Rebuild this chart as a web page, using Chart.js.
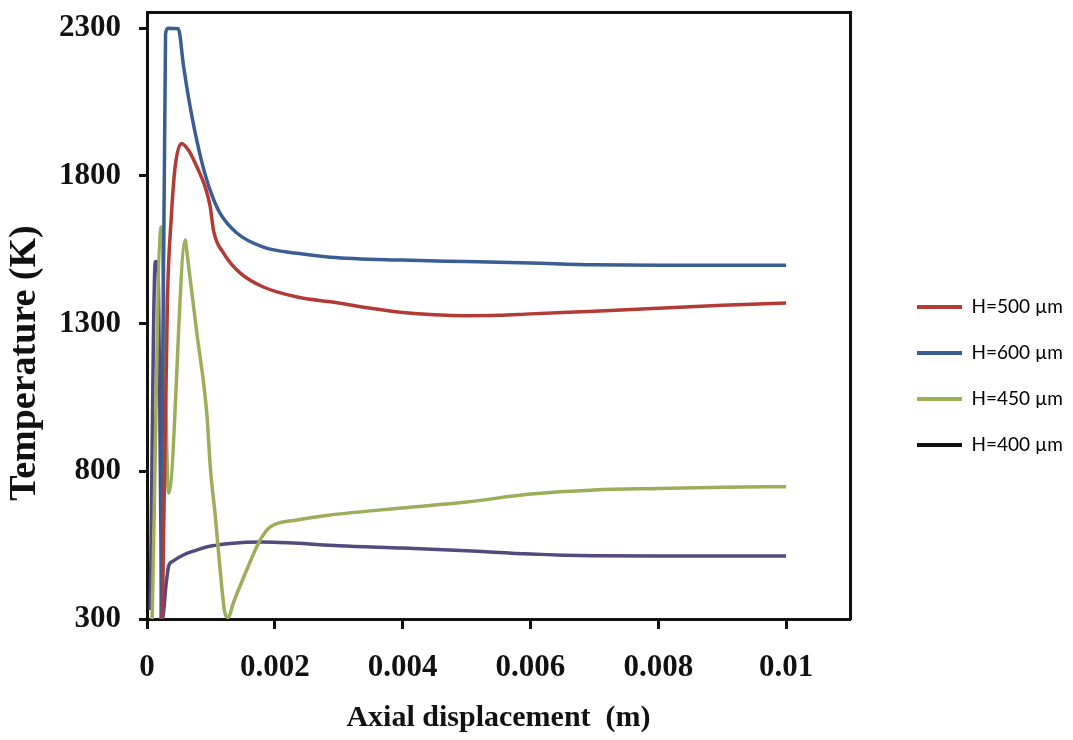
<!DOCTYPE html>
<html>
<head>
<meta charset="utf-8">
<script src="https://cdn.jsdelivr.net/npm/chart.js@4.4.1/dist/chart.umd.min.js"></script>
<style>
  body { margin: 0; background: #fff; }
</style>
</head>
<body>
<canvas id="tempChart" width="1073" height="740"></canvas>
<script>
// axial position (m) and temperature (K)
const x500 = [0.00024, 0.00032, 0.00038, 0.00044, 0.00054, 0.00065, 0.00078, 0.00091, 0.00099, 0.00104, 0.0012, 0.00146, 0.00182, 0.00235, 0.003, 0.0035, 0.004, 0.0045, 0.005, 0.0055, 0.006, 0.007, 0.008, 0.009, 0.01];
const t500 = [300, 1380, 1660, 1830, 1910, 1887, 1831, 1763, 1695, 1616, 1538, 1471, 1424, 1390, 1370, 1352, 1338, 1330, 1327, 1328, 1333, 1342, 1352, 1362, 1370];

const x600 = [0.00022, 0.00029, 0.00033, 0.00049, 0.00057, 0.00067, 0.00075, 0.00086, 0.00099, 0.00114, 0.00141, 0.00182, 0.00235, 0.00287, 0.004, 0.005, 0.006, 0.007, 0.008, 0.01];
const t600 = [300, 2280, 2300, 2298, 2175, 2040, 1950, 1845, 1750, 1675, 1606, 1559, 1538, 1525, 1515, 1510, 1505, 1499, 1498, 1498];

const x450 = [0.00008, 0.00022, 0.00034, 0.0006, 0.00062, 0.00078, 0.00094, 0.00099, 0.00107, 0.00114, 0.00122, 0.00127, 0.00135, 0.00156, 0.00177, 0.00193, 0.00235, 0.00287, 0.004, 0.005, 0.006, 0.007, 0.008, 0.009, 0.01];
const t450 = [300, 1627, 726, 1583, 1549, 1268, 985, 815, 646, 477, 320, 305, 354, 466, 567, 612, 635, 652, 676, 696, 723, 737, 742, 746, 748];

const x400 = [0.00005, 0.00013, 0.00017, 0.00024, 0.0003, 0.00034, 0.0004, 0.0006, 0.0008, 0.001, 0.0013, 0.0018, 0.0023, 0.003, 0.004, 0.005, 0.006, 0.007, 0.008, 0.01];
const t400 = [330, 1510, 1500, 300, 420, 480, 495, 520, 535, 547, 556, 561, 557, 548, 540, 531, 520, 514, 513, 513];

const seriesNames = ["H=500 \u00b5m", "H=600 \u00b5m", "H=450 \u00b5m", "H=400 \u00b5m"];
const lineColors = ["#b23b36", "#3a5d94", "#9bae5a", "#524b7e"];
const legendColors = ["#b23b36", "#3a5d94", "#9bae5a", "#111111"];

const xTicks = [0, 0.002, 0.004, 0.006, 0.008, 0.01];
const yTicks = [300, 800, 1300, 1800, 2300];

function pairs(xs, ys) {
    return xs.map((x, i) => ({ x: x, y: ys[i] }));
}

const allX = [x500, x600, x450, x400];
const allT = [t500, t600, t450, t400];

const datasets = seriesNames.map((name, i) => ({
    label: name,
    data: pairs(allX[i], allT[i]),
    borderColor: lineColors[i],
    backgroundColor: lineColors[i],
    borderWidth: 3.5,
    pointRadius: 0,
    cubicInterpolationMode: "monotone",
    fill: false
}));

const serif = "'Liberation Serif', 'Times New Roman', serif";

new Chart(document.getElementById("tempChart"), {
    type: "line",
    data: { datasets: datasets },
    options: {
        responsive: false,
        animation: false,
        layout: { padding: { top: 12, right: 5, bottom: 0, left: 0 } },
        plugins: {
            tooltip: { enabled: false },
            legend: {
                position: "right",
                labels: {
                    usePointStyle: true,
                    pointStyle: "line",
                    pointStyleWidth: 45,
                    padding: 27,
                    color: "#222",
                    font: { family: "Lato, 'Open Sans', sans-serif", size: 19 },
                    generateLabels(chart) {
                        return chart.data.datasets.map((ds, i) => ({
                            text: ds.label,
                            strokeStyle: legendColors[i],
                            fillStyle: legendColors[i],
                            lineWidth: 4,
                            pointStyle: "line",
                            datasetIndex: i,
                            hidden: false
                        }));
                    }
                }
            }
        },
        scales: {
            x: {
                type: "linear",
                min: 0,
                max: 0.011,
                afterBuildTicks(scale) { scale.ticks = xTicks.map(v => ({ value: v })); },
                afterFit(scale) { scale.height = 121; },
                grid: { drawOnChartArea: false, tickLength: 10, tickWidth: 3, tickColor: "#111" },
                border: { display: true, color: "#111", width: 3 },
                ticks: {
                    color: "#111",
                    padding: 20,
                    maxRotation: 0,
                    font: { family: serif, size: 31, weight: "bold" },
                    callback: v => String(+v.toFixed(4))
                },
                title: {
                    display: true,
                    text: "Axial displacement  (m)",
                    color: "#111",
                    padding: { top: 0, bottom: 4 },
                    font: { family: serif, size: 30, weight: "bold" }
                }
            },
            y: {
                min: 300,
                max: 2355,
                afterBuildTicks(scale) { scale.ticks = yTicks.map(v => ({ value: v })); },
                afterFit(scale) {
                    scale.width = 147;
                    scale.paddingTop = 0;
                    scale.paddingBottom = 0;
                },
                grid: { drawOnChartArea: false, tickLength: 8, tickWidth: 3, tickColor: "#111" },
                border: { display: true, color: "#111", width: 3 },
                ticks: {
                    color: "#111",
                    padding: 18,
                    font: { family: serif, size: 31, weight: "bold" },
                    callback: v => String(v)
                },
                title: {
                    display: true,
                    // trailing spaces push the centred title down a little, as in the figure
                    text: "Temperature (K)          ",
                    color: "#111",
                    padding: { top: 2, bottom: 0 },
                    font: { family: serif, size: 38, weight: "bold" }
                }
            },
            // empty axes that only close the frame on the top and right
            xTop: {
                type: "linear",
                position: "top",
                min: 0,
                max: 0.011,
                display: true,
                afterFit(scale) { scale.height = 0; },
                grid: { display: false },
                ticks: { display: false },
                border: { display: true, color: "#111", width: 3 }
            },
            yRight: {
                position: "right",
                min: 300,
                max: 2355,
                display: true,
                afterFit(scale) { scale.width = 40; },
                grid: { display: false },
                ticks: { display: false },
                border: { display: true, color: "#111", width: 3 }
            }
        }
    }
});
</script>
</body>
</html>
